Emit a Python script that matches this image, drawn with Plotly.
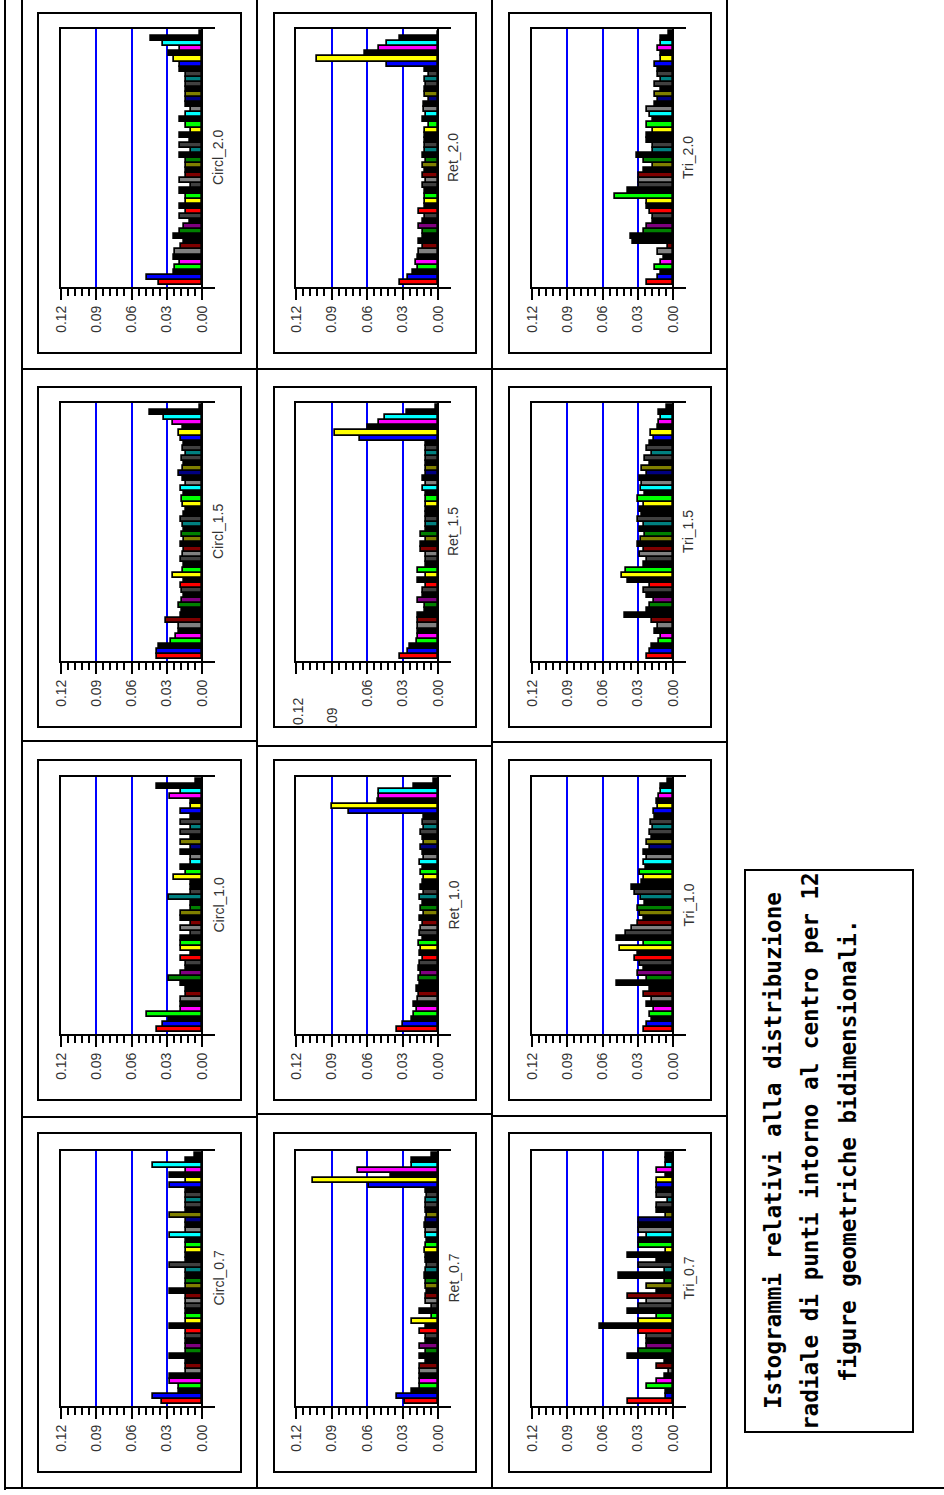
import plotly.graph_objects as go

W, H = 944, 1495

# ---------------- data ----------------
shape_names = ["Circl", "Ret", "Tri"]
size_names = ["2.0", "1.5", "1.0", "0.7"]
bins = list(range(50))

circl_2_0 = [0.037, 0.047, 0.024, 0.023, 0.019, 0.024, 0.023, 0.018, 0.015, 0.024,
             0.019, 0.015, 0.010, 0.019, 0.014, 0.019, 0.014, 0.014, 0.019, 0.009,
             0.019, 0.014, 0.014, 0.014, 0.014, 0.019, 0.009, 0.019, 0.010, 0.019,
             0.009, 0.014, 0.019, 0.014, 0.009, 0.014, 0.014, 0.014, 0.014, 0.014,
             0.014, 0.014, 0.019, 0.019, 0.024, 0.028, 0.019, 0.033, 0.043, 0.002]
ret_2_0 = [0.032, 0.025, 0.021, 0.017, 0.019, 0.017, 0.016, 0.013, 0.016, 0.013,
           0.013, 0.016, 0.013, 0.011, 0.016, 0.011, 0.011, 0.011, 0.011, 0.013,
           0.010, 0.013, 0.011, 0.013, 0.010, 0.013, 0.011, 0.011, 0.011, 0.011,
           0.011, 0.008, 0.013, 0.010, 0.012, 0.012, 0.008, 0.011, 0.011, 0.010,
           0.011, 0.008, 0.011, 0.043, 0.102, 0.062, 0.050, 0.043, 0.032, 0.000]
tri_2_0 = [0.022, 0.013, 0.010, 0.015, 0.010, 0.008, 0.013, 0.004, 0.034, 0.036,
           0.025, 0.022, 0.017, 0.017, 0.020, 0.022, 0.022, 0.049, 0.038, 0.029,
           0.029, 0.029, 0.025, 0.017, 0.025, 0.031, 0.017, 0.017, 0.022, 0.022,
           0.017, 0.022, 0.017, 0.020, 0.022, 0.015, 0.013, 0.015, 0.010, 0.015,
           0.010, 0.013, 0.013, 0.015, 0.010, 0.010, 0.013, 0.010, 0.010, 0.003]
circl_1_5 = [0.038, 0.038, 0.037, 0.026, 0.022, 0.020, 0.020, 0.031, 0.018, 0.017,
             0.020, 0.017, 0.015, 0.017, 0.018, 0.015, 0.025, 0.016, 0.015, 0.018,
             0.016, 0.015, 0.018, 0.015, 0.017, 0.015, 0.016, 0.018, 0.015, 0.014,
             0.016, 0.017, 0.015, 0.018, 0.014, 0.016, 0.020, 0.016, 0.015, 0.017,
             0.014, 0.016, 0.015, 0.018, 0.020, 0.016, 0.025, 0.032, 0.044, 0.002]
ret_1_5 = [0.032, 0.025, 0.024, 0.018, 0.017, 0.017, 0.017, 0.017, 0.017, 0.011,
           0.011, 0.017, 0.013, 0.013, 0.010, 0.017, 0.010, 0.017, 0.010, 0.010,
           0.010, 0.014, 0.014, 0.010, 0.014, 0.010, 0.010, 0.010, 0.010, 0.010,
           0.010, 0.010, 0.010, 0.013, 0.010, 0.013, 0.010, 0.010, 0.010, 0.010,
           0.010, 0.010, 0.010, 0.066, 0.087, 0.059, 0.050, 0.045, 0.026, 0.002]
tri_1_5 = [0.022, 0.020, 0.018, 0.012, 0.010, 0.015, 0.013, 0.018, 0.041, 0.022,
           0.020, 0.016, 0.022, 0.025, 0.020, 0.038, 0.043, 0.040, 0.025, 0.022,
           0.028, 0.025, 0.030, 0.027, 0.024, 0.028, 0.025, 0.030, 0.026, 0.028,
           0.025, 0.030, 0.024, 0.027, 0.026, 0.028, 0.022, 0.026, 0.020, 0.024,
           0.018, 0.022, 0.020, 0.016, 0.019, 0.013, 0.012, 0.010, 0.012, 0.005]
circl_1_0 = [0.038, 0.033, 0.028, 0.047, 0.018, 0.018, 0.018, 0.014, 0.014, 0.018,
             0.028, 0.018, 0.014, 0.014, 0.018, 0.009, 0.018, 0.018, 0.018, 0.009,
             0.018, 0.009, 0.018, 0.018, 0.009, 0.009, 0.028, 0.009, 0.009, 0.009,
             0.024, 0.014, 0.018, 0.009, 0.009, 0.018, 0.009, 0.018, 0.009, 0.018,
             0.009, 0.018, 0.009, 0.018, 0.009, 0.009, 0.027, 0.018, 0.038, 0.005]
ret_1_0 = [0.035, 0.030, 0.022, 0.020, 0.018, 0.020, 0.017, 0.016, 0.018, 0.015,
           0.016, 0.014, 0.016, 0.015, 0.013, 0.015, 0.014, 0.016, 0.013, 0.015,
           0.014, 0.013, 0.015, 0.012, 0.014, 0.013, 0.015, 0.012, 0.014, 0.013,
           0.012, 0.014, 0.013, 0.015, 0.012, 0.013, 0.014, 0.012, 0.013, 0.014,
           0.012, 0.013, 0.012, 0.075, 0.090, 0.051, 0.050, 0.050, 0.020, 0.003]
tri_1_0 = [0.025, 0.022, 0.018, 0.020, 0.016, 0.022, 0.018, 0.025, 0.020, 0.048,
           0.022, 0.030, 0.025, 0.028, 0.032, 0.030, 0.045, 0.025, 0.048, 0.040,
           0.035, 0.030, 0.025, 0.028, 0.030, 0.024, 0.027, 0.032, 0.035, 0.026,
           0.025, 0.028, 0.023, 0.025, 0.022, 0.025, 0.020, 0.022, 0.018, 0.020,
           0.017, 0.019, 0.015, 0.016, 0.013, 0.014, 0.012, 0.010, 0.010, 0.004]
circl_0_7 = [0.034, 0.042, 0.020, 0.020, 0.027, 0.027, 0.014, 0.014, 0.014, 0.027,
             0.014, 0.014, 0.014, 0.014, 0.014, 0.027, 0.014, 0.014, 0.014, 0.014,
             0.014, 0.014, 0.027, 0.014, 0.014, 0.014, 0.014, 0.027, 0.014, 0.014,
             0.014, 0.014, 0.014, 0.027, 0.014, 0.014, 0.014, 0.027, 0.014, 0.014,
             0.014, 0.014, 0.014, 0.027, 0.014, 0.027, 0.014, 0.042, 0.014, 0.006]
ret_0_7 = [0.028, 0.035, 0.022, 0.015, 0.015, 0.015, 0.015, 0.015, 0.010, 0.015,
           0.010, 0.015, 0.010, 0.010, 0.015, 0.010, 0.022, 0.005, 0.015, 0.005,
           0.010, 0.010, 0.009, 0.010, 0.010, 0.011, 0.010, 0.009, 0.010, 0.010,
           0.011, 0.010, 0.009, 0.010, 0.010, 0.011, 0.010, 0.009, 0.010, 0.010,
           0.010, 0.009, 0.010, 0.058, 0.106, 0.040, 0.068, 0.022, 0.022, 0.005]
tri_0_7 = [0.038, 0.006, 0.006, 0.022, 0.014, 0.007, 0.003, 0.014, 0.007, 0.038,
           0.029, 0.022, 0.022, 0.022, 0.029, 0.062, 0.029, 0.014, 0.038, 0.029,
           0.022, 0.038, 0.014, 0.022, 0.007, 0.046, 0.007, 0.029, 0.014, 0.038,
           0.006, 0.029, 0.029, 0.022, 0.029, 0.029, 0.029, 0.006, 0.014, 0.014,
           0.004, 0.014, 0.014, 0.014, 0.014, 0.006, 0.014, 0.006, 0.006, 0.006]

panel_values = {
    ("Circl", "2.0"): circl_2_0, ("Ret", "2.0"): ret_2_0, ("Tri", "2.0"): tri_2_0,
    ("Circl", "1.5"): circl_1_5, ("Ret", "1.5"): ret_1_5, ("Tri", "1.5"): tri_1_5,
    ("Circl", "1.0"): circl_1_0, ("Ret", "1.0"): ret_1_0, ("Tri", "1.0"): tri_1_0,
    ("Circl", "0.7"): circl_0_7, ("Ret", "0.7"): ret_0_7, ("Tri", "0.7"): tri_0_7,
}

tick_values = [0.0, 0.03, 0.06, 0.09, 0.12]
tick_labels = ["0.00", "0.03", "0.06", "0.09", "0.12"]
minor_values = [0.006, 0.012, 0.018, 0.024, 0.036, 0.042, 0.048, 0.054,
                0.066, 0.072, 0.078, 0.084, 0.096, 0.102, 0.108, 0.114]

caption_lines = ["Istogrammi relativi alla distribuzione",
                 "radiale di punti intorno al centro per 12",
                 "figure geometriche bidimensionali."]

# ---------------- styles / geometry ----------------
bar_colors = ["red", "blue", "black", "lime", "magenta", "black", "#808080", "maroon", "black", "black",
              "green", "purple", "black", "#404040", "red", "black", "yellow", "lime", "black", "#404040",
              "#808080", "maroon", "black", "olive", "green", "black", "teal", "#404040", "black", "black",
              "yellow", "lime", "black", "cyan", "#808080", "black", "navy", "olive", "black", "#404040",
              "teal", "#404040", "black", "blue", "yellow", "black", "magenta", "cyan", "black", "black"]

col_geom = {
    "Circl": dict(left=61, zero=202, ext=215, frame=(38, 241), label=218),
    "Ret": dict(left=296, zero=438, ext=451, frame=(274, 476), label=453),
    "Tri": dict(left=532, zero=673, ext=686, frame=(509, 711), label=688),
}
row_geom = {
    "2.0": dict(top=29, bottom=287, frame=(13, 353)),
    "1.5": dict(top=403, bottom=661, frame=(387, 727)),
    "1.0": dict(top=777, bottom=1034, frame=(760, 1100)),
    "0.7": dict(top=1151, bottom=1406, frame=(1133, 1472)),
}


def px(x):
    return x / W


def py(y):
    return 1 - y / H


TICKFONT = dict(family="Arial, Liberation Sans, sans-serif", size=14, color="#333")

fig = go.Figure()
layout = dict(width=W, height=H, margin=dict(l=0, r=0, t=0, b=0, autoexpand=False),
              autosize=False,
              paper_bgcolor="white", plot_bgcolor="white", showlegend=False,
              bargap=0)
annotations = []
shapes = []

k = 0
for size in size_names:
    for shp in shape_names:
        k += 1
        cg, rg = col_geom[shp], row_geom[size]
        vals = panel_values[(shp, size)]
        scale = (cg["zero"] - cg["left"]) / 0.12
        xr = [0.12, -(cg["ext"] - cg["zero"]) / scale]
        xa = "x" if k == 1 else f"x{k}"
        ya = "y" if k == 1 else f"y{k}"
        fig.add_trace(go.Bar(
            x=vals, y=bins, orientation="h", xaxis=xa, yaxis=ya, width=1.0,
            marker=dict(color=bar_colors, line=dict(color="black", width=1.7)),
            hoverinfo="skip"))
        special = (shp == "Ret" and size == "1.5")
        ttext = list(tick_labels)
        if special:
            ttext[3] = ""
            ttext[4] = ""
        layout["xaxis" if k == 1 else f"xaxis{k}"] = dict(
            domain=[px(cg["left"]), px(cg["ext"])], range=xr, anchor=ya,
            tickmode="array", tickvals=tick_values, ticktext=ttext, tickangle=-90,
            ticks="outside", ticklen=11, tickwidth=2, tickcolor="black",
            minor=dict(tickvals=minor_values, ticks="outside", ticklen=7,
                       tickwidth=2, tickcolor="black", showgrid=False),
            showline=True, mirror=True, linecolor="black", linewidth=2,
            showgrid=True, gridcolor="#0000ff", gridwidth=2,
            zeroline=True, zerolinecolor="black", zerolinewidth=2,
            tickfont=TICKFONT, fixedrange=True)
        layout["yaxis" if k == 1 else f"yaxis{k}"] = dict(
            domain=[py(rg["bottom"]), py(rg["top"])], range=[-0.9, 49.9], anchor=xa,
            showline=True, mirror=False, linecolor="black", linewidth=2,
            showticklabels=False, ticks="", showgrid=False, zeroline=False,
            fixedrange=True)
        annotations.append(dict(
            text=f"{shp}_{size}", x=px(cg["label"]), y=py((rg["top"] + rg["bottom"]) / 2),
            xref="paper", yref="paper", showarrow=False, textangle=-90,
            xanchor="center", yanchor="middle", font=TICKFONT))
        if special:
            annotations.append(dict(text="0.12", x=px(cg["left"] + 2), y=py(712),
                                    xref="paper", yref="paper", showarrow=False,
                                    textangle=-90, xanchor="center", yanchor="middle",
                                    font=TICKFONT))
            annotations.append(dict(text=".09", x=px(cg["left"] + 36), y=py(717),
                                    xref="paper", yref="paper", showarrow=False,
                                    textangle=-90, xanchor="center", yanchor="middle",
                                    font=TICKFONT))
        # panel frame
        shapes.append(dict(type="rect", xref="paper", yref="paper",
                           x0=px(cg["frame"][0]), x1=px(cg["frame"][1]),
                           y0=py(rg["frame"][0]), y1=py(rg["frame"][1]),
                           line=dict(color="black", width=2)))


def hline(y, x0, x1, w=2):
    shapes.append(dict(type="line", xref="paper", yref="paper", x0=px(x0), x1=px(x1),
                       y0=py(y), y1=py(y), line=dict(color="black", width=w)))


def vline(x, y0, y1, w=2):
    shapes.append(dict(type="line", xref="paper", yref="paper", x0=px(x), x1=px(x),
                       y0=py(y0), y1=py(y1), line=dict(color="black", width=w)))


# page / grid lines
vline(5, 0, 1490)
vline(22, 0, 1487)
vline(257, 0, 1487)
vline(492, 0, 1487)
vline(727, 0, 1487)
hline(369, 22, 727)
hline(741, 22, 257)
hline(746, 257, 492)
hline(742, 492, 727)
hline(1117, 22, 257)
hline(1114, 257, 492)
hline(1116, 492, 727)
hline(1488, 5, 944)

# caption box
shapes.append(dict(type="rect", xref="paper", yref="paper", x0=px(745), x1=px(913),
                   y0=py(870), y1=py(1432), line=dict(color="black", width=2)))
CAPFONT = dict(family="DejaVu Sans Mono, Courier New, monospace", size=22.6, color="black")
for line, xc in zip(caption_lines, [773, 810, 848]):
    annotations.append(dict(text=f"<b>{line}</b>", x=px(xc), y=py(1151), xref="paper",
                            yref="paper", showarrow=False, textangle=-90,
                            xanchor="center", yanchor="middle", font=CAPFONT))

layout["annotations"] = annotations
layout["shapes"] = shapes
fig.update_layout(**layout)

fig.write_html("out.html", config={"displayModeBar": False, "responsive": False},
               post_script="document.body.style.margin='0';document.body.style.overflow='hidden';")
